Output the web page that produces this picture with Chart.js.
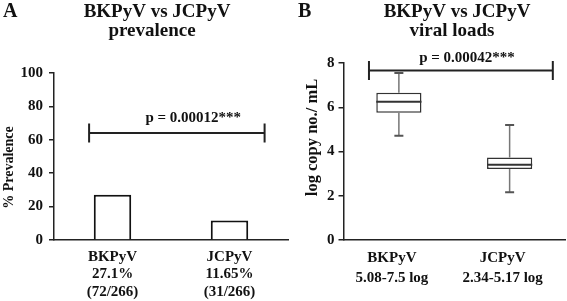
<!DOCTYPE html>
<html><head><meta charset="utf-8">
<script src="https://cdn.jsdelivr.net/npm/chart.js@4.4.0/dist/chart.umd.min.js"></script>
<style>
html,body{margin:0;padding:0;background:#fff;}
#wrap{position:relative;width:567px;height:301px;overflow:hidden;background:#fff;}
#cA{position:absolute;left:0;top:0;}
#cB{position:absolute;left:290px;top:0;}
</style></head><body>
<div id="wrap"><canvas id="cA" width="290" height="301"></canvas><canvas id="cB" width="277" height="301"></canvas></div>
<script>
// ---- Panel A data ----
const prevalenceCategories = [['BKPyV','27.1%','(72/266)'],['JCPyV','11.65%','(31/266)']];
const prevalenceValues = [27.1, 11.65];
const prevalenceTicks = [0, 20, 40, 60, 80, 100];
const prevalenceP = 'p = 0.00012***';
const prevalenceBracket = 64;
const prevalenceTitle = ['BKPyV vs JCPyV', 'prevalence'];
const prevalenceAxisTitle = '% Prevalence';

// ---- Panel B data ----
const loadCategories = [['BKPyV','5.08-7.5 log'],['JCPyV','2.34-5.17 log']];
const loadMin = [4.71, 2.16];
const loadQ1 = [5.75, 3.21];
const loadMedian = [6.25, 3.40];
const loadQ3 = [6.65, 3.73];
const loadMax = [7.55, 5.20];
const loadTicks = [0, 2, 4, 6, 8];
const loadP = 'p = 0.00042***';
const loadBracket = 7.66;
const loadTitle = ['BKPyV vs JCPyV', 'viral loads'];
const loadAxisTitle = 'log copy no./ mL';

const FAM = 'Liberation Serif';
const INK = '#111';
const AXIS = '#222';

const decoPlugin = {
  id: 'deco',
  afterDraw(chart, args, o) {
    const ctx = chart.ctx;
    const xs = chart.scales.x, ys = chart.scales.y;
    ctx.save();
    ctx.fillStyle = INK;
    ctx.font = 'bold 20px "' + FAM + '"';
    ctx.textAlign = 'left'; ctx.textBaseline = 'alphabetic';
    ctx.fillText(o.letter, o.letterX, o.letterY);
    ctx.font = 'bold 19px "' + FAM + '"';
    ctx.textAlign = 'center';
    o.title.forEach((t, i) => ctx.fillText(t, o.titleX[i], o.titleY[i]));
    ctx.save();
    ctx.translate(o.yTitleX, o.yTitleY);
    ctx.rotate(-Math.PI / 2);
    ctx.font = 'bold ' + o.yTitleSize + 'px "' + FAM + '"';
    ctx.textAlign = 'center'; ctx.textBaseline = 'middle';
    ctx.fillText(o.yTitle, 0, 0);
    ctx.restore();
    const x1 = xs.getPixelForValue(o.from), x2 = xs.getPixelForValue(o.to);
    const y = ys.getPixelForValue(o.value);
    ctx.strokeStyle = AXIS; ctx.lineWidth = 2;
    ctx.beginPath();
    ctx.moveTo(x1, y); ctx.lineTo(x2, y);
    ctx.moveTo(x1, y - o.cap); ctx.lineTo(x1, y + o.cap);
    ctx.moveTo(x2, y - o.cap); ctx.lineTo(x2, y + o.cap);
    ctx.stroke();
    ctx.font = 'bold 15px "' + FAM + '"';
    ctx.textAlign = 'center'; ctx.textBaseline = 'alphabetic';
    ctx.fillText(o.pText, xs.getPixelForValue(o.textAt), y - o.textGap);
    ctx.restore();
  }
};

const boxPlugin = {
  id: 'boxes',
  afterDatasetsDraw(chart) {
    if (!chart.options.plugins.boxes || !chart.options.plugins.boxes.on) return;
    const ctx = chart.ctx, ys = chart.scales.y;
    const meta = chart.getDatasetMeta(0);
    ctx.save();
    meta.data.forEach((bar, i) => {
      const x = bar.x, w = bar.width;
      const pMin = ys.getPixelForValue(loadMin[i]);
      const pQ1 = ys.getPixelForValue(loadQ1[i]);
      const pMed = ys.getPixelForValue(loadMedian[i]);
      const pQ3 = ys.getPixelForValue(loadQ3[i]);
      const pMax = ys.getPixelForValue(loadMax[i]);
      ctx.strokeStyle = '#777'; ctx.lineWidth = 1.5;
      ctx.beginPath();
      ctx.moveTo(x, pQ3); ctx.lineTo(x, pMax);
      ctx.moveTo(x, pQ1); ctx.lineTo(x, pMin);
      ctx.stroke();
      ctx.strokeStyle = '#555'; ctx.lineWidth = 2;
      ctx.beginPath();
      ctx.moveTo(x - 4.5, pMax); ctx.lineTo(x + 4.5, pMax);
      ctx.moveTo(x - 4.5, pMin); ctx.lineTo(x + 4.5, pMin);
      ctx.stroke();
      ctx.strokeStyle = '#333'; ctx.lineWidth = 2;
      ctx.beginPath();
      ctx.moveTo(x - w / 2, pMed); ctx.lineTo(x + w / 2, pMed);
      ctx.stroke();
    });
    ctx.restore();
  }
};

function yAxis(ticksArr, min, max, width, pad) {
  return {
    min: min, max: max,
    afterBuildTicks: s => { s.ticks = ticksArr.map(v => ({ value: v })); },
    afterFit: s => { s.width = width; },
    grid: { display: true, drawOnChartArea: false, drawTicks: true, tickLength: 5, color: AXIS, lineWidth: 1.5 },
    border: { display: true, color: AXIS, width: 1.5 },
    ticks: { padding: pad, color: INK, font: { size: 15, weight: 'bold', family: FAM } }
  };
}
function xAxis(pad, lh, labelOffset) {
  return {
    offset: true,
    grid: { display: false },
    border: { display: true, color: AXIS, width: 1.5 },
    afterFit: s => { s.height = 61; },
    ticks: { padding: pad, color: INK, maxRotation: 0, autoSkip: false, labelOffset: labelOffset,
             font: { size: 15, weight: 'bold', family: FAM, lineHeight: lh } }
  };
}

new Chart(document.getElementById('cA'), {
  type: 'bar',
  data: {
    labels: prevalenceCategories,
    datasets: [{
      data: prevalenceValues,
      backgroundColor: '#fff', borderColor: INK, borderWidth: 2,
      barPercentage: 0.4, categoryPercentage: 0.8
    }]
  },
  options: {
    responsive: false, animation: false, devicePixelRatio: 1,
    layout: { padding: { left: 0, right: 2, top: 73, bottom: 0 } },
    scales: { x: xAxis(0, 1.17, 0), y: yAxis(prevalenceTicks, 0, 100, 54, 6) },
    plugins: {
      legend: { display: false }, tooltip: { enabled: false },
      deco: {
        letter: 'A', letterX: 3, letterY: 17,
        title: prevalenceTitle, titleX: [157, 152], titleY: [17, 36],
        yTitle: prevalenceAxisTitle, yTitleX: 9.5, yTitleY: 167.5, yTitleSize: 14,
        from: -0.2, to: 1.3, value: prevalenceBracket, cap: 9.5,
        pText: prevalenceP, textAt: 0.69, textGap: 11
      }
    }
  },
  plugins: [decoPlugin]
});

new Chart(document.getElementById('cB'), {
  type: 'bar',
  data: {
    labels: loadCategories,
    datasets: [{
      data: loadQ1.map((q, i) => [q, loadQ3[i]]),
      backgroundColor: '#fff', borderColor: '#333', borderWidth: 1.5, borderSkipped: false,
      barPercentage: 0.51, categoryPercentage: 0.8
    }]
  },
  options: {
    responsive: false, animation: false, devicePixelRatio: 1,
    layout: { padding: { left: 0, right: 2, top: 63, bottom: 0 } },
    scales: { x: xAxis(0, 1.33, -7), y: yAxis(loadTicks, 0, 8, 53.5, 4) },
    plugins: {
      legend: { display: false }, tooltip: { enabled: false },
      boxes: { on: true },
      deco: {
        letter: 'B', letterX: 8, letterY: 17,
        title: loadTitle, titleX: [167, 162], titleY: [17, 36],
        yTitle: loadAxisTitle, yTitleX: 22.7, yTitleY: 137.5, yTitleSize: 16.5,
        from: -0.27, to: 1.39, value: loadBracket, cap: 9.5,
        pText: loadP, textAt: 0.615, textGap: 9
      }
    }
  },
  plugins: [decoPlugin, boxPlugin]
});
</script>
</body></html>
